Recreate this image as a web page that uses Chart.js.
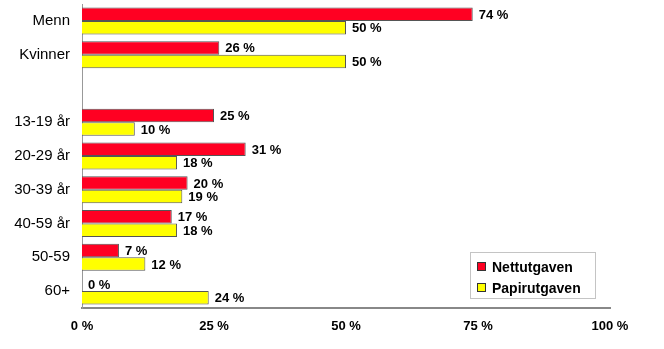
<!DOCTYPE html>
<html><head><meta charset="utf-8">
<script src="https://cdn.jsdelivr.net/npm/chart.js@4/dist/chart.umd.min.js"></script>
<style>html,body{margin:0;padding:0;background:#fff}#w{width:664px;height:349px}</style>
</head><body><div id="w"><canvas id="c"></canvas></div>
<script>
const categories = ['Menn','Kvinner','','13-19 år','20-29 år','30-39 år','40-59 år','50-59','60+'];
const nettutgaven = [74,26,null,25,31,20,17,7,0];
const papirutgaven = [50,50,null,10,18,19,18,12,24];
const xTicks = [0,25,50,75,100];
const seriesNames = ['Nettutgaven','Papirutgaven'];
const seriesColors = ['#ff0022','#ffff00'];

const labelPlugin = {
  id:'labels',
  afterDatasetsDraw(chart){
    const ctx = chart.ctx;
    ctx.save();
    ctx.font = 'bold 13px Arial, "Liberation Sans", sans-serif';
    ctx.fillStyle = '#000';
    ctx.textBaseline = 'middle';
    ctx.textAlign = 'left';
    chart.data.datasets.forEach((ds,i)=>{
      const meta = chart.getDatasetMeta(i);
      meta.data.forEach((bar,j)=>{
        const v = ds.data[j];
        if(v===null||v===undefined) return;
        ctx.fillText(v+' %', bar.x+6, bar.y+1);
      });
    });
    // legend
    const lx=470, ly=252, lw=125, lh=46;
    ctx.fillStyle='#fff';
    ctx.fillRect(lx,ly,lw,lh);
    ctx.strokeStyle='#888';
    ctx.setLineDash([1,1]);
    ctx.lineWidth=1;
    ctx.strokeRect(lx+0.5,ly+0.5,lw,lh);
    ctx.setLineDash([]);
    ctx.font='bold 14px Arial, "Liberation Sans", sans-serif';
    seriesNames.forEach((n,i)=>{
      const y = ly+15+i*21;
      ctx.fillStyle=seriesColors[i];
      ctx.fillRect(lx+7,y-5,9,9);
      ctx.strokeStyle='#333';
      ctx.strokeRect(lx+7.5,y-4.5,8,8);
      ctx.fillStyle='#000';
      ctx.fillText(n,lx+22,y+1);
    });
    ctx.restore();
  }
};

new Chart(document.getElementById('c'),{
  type:'bar',
  data:{labels:categories,datasets:[
    {label:seriesNames[0],data:nettutgaven,backgroundColor:seriesColors[0],borderColor:'#555',borderWidth:1,categoryPercentage:0.8,barPercentage:1},
    {label:seriesNames[1],data:papirutgaven,backgroundColor:seriesColors[1],borderColor:'#555',borderWidth:1,categoryPercentage:0.8,barPercentage:1}
  ]},
  options:{
    indexAxis:'y',responsive:true,maintainAspectRatio:false,animation:false,
    layout:{autoPadding:false,padding:{left:0,right:54,top:4,bottom:0}},
    plugins:{legend:{display:false},tooltip:{enabled:false}},
    scales:{
      x:{min:0,max:100,
        afterBuildTicks(s){s.ticks=xTicks.map(v=>({value:v}));},
        afterFit(s){s.height=41;s.paddingLeft=0;s.paddingRight=0;},
        grid:{display:false,drawOnChartArea:false,drawTicks:true,tickLength:4,color:'#888'},
        border:{display:true,color:'#888',width:2},
        ticks:{callback:v=>v+' %',color:'#000',font:{family:'Arial, "Liberation Sans", sans-serif',size:13,weight:'bold'},padding:7,maxRotation:0}
      },
      y:{
        afterFit(s){s.width=82;s.paddingTop=0;s.paddingBottom=0;},
        grid:{display:false},
        border:{display:true,color:'#999',width:1,dash:[2,1]},
        ticks:{color:'#000',font:{family:'Arial, "Liberation Sans", sans-serif',size:15},padding:4,autoSkip:false}
      }
    }
  },
  plugins:[labelPlugin]
});
</script></body></html>
